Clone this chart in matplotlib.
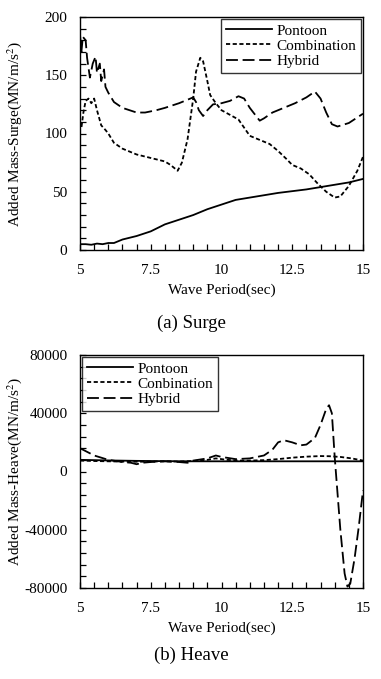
import matplotlib
matplotlib.use("Agg")
import matplotlib.pyplot as plt
from matplotlib.ticker import MultipleLocator

plt.rcParams['font.family'] = ['Liberation Serif', 'DejaVu Serif']
plt.rcParams['mathtext.fontset'] = 'stix'

# ---- Surge data ----
surge_pontoon_x = [5.0, 5.2, 5.4, 5.6, 5.8, 6.0, 6.2, 6.5, 7.0, 7.5, 8.0, 8.5, 9.0, 9.5, 10.0,
                   10.5, 11.0, 11.5, 12.0, 12.5, 13.0, 13.5, 14.0, 14.5, 15.0]
surge_pontoon_y = [5, 5, 4.5, 5.5, 5, 6, 6, 9, 12, 16, 22, 26, 30, 35, 39,
                   43, 45, 47, 49, 50.5, 52, 54, 56, 58, 61]

surge_comb_x = [5.0, 5.05, 5.12, 5.2, 5.3, 5.4, 5.5, 5.6, 5.75, 5.9, 6.0, 6.2, 6.5, 7.0, 7.5,
                8.0, 8.2, 8.45, 8.6, 8.8, 9.0, 9.1, 9.25, 9.35, 9.5, 9.6, 9.8, 10.0, 10.3,
                10.6, 10.8, 11.0, 11.3, 11.7, 12.0, 12.3, 12.5, 12.8, 13.1, 13.4, 13.7,
                14.0, 14.2, 14.5, 14.8, 15.0]
surge_comb_y = [110, 105, 118, 128, 130, 126, 130, 120, 107, 103, 100, 92, 87, 82, 79,
                76, 73, 68, 75, 95, 130, 153, 165, 162, 145, 133, 126, 120, 116,
                112, 105, 98, 95, 91, 85, 78, 73, 70, 65, 57, 50,
                45, 46, 55, 68, 80]

surge_hyb_x = [5.0, 5.05, 5.1, 5.2, 5.25, 5.35, 5.45, 5.55, 5.6, 5.7, 5.75, 5.85, 5.9, 6.0,
               6.2, 6.5, 7.0, 7.3, 7.7, 8.0, 8.5, 9.0, 9.1, 9.2, 9.35, 9.5, 9.7, 10.0,
               10.3, 10.6, 10.8, 11.0, 11.35, 11.5, 11.8, 12.2, 12.6, 13.0, 13.3, 13.5,
               13.7, 13.9, 14.1, 14.5, 15.0]
surge_hyb_y = [185, 170, 183, 180, 165, 148, 160, 166, 152, 160, 145, 155, 140, 135,
               127, 122, 118, 118, 120, 122, 126, 131, 127, 120, 115, 120, 125, 126,
               128, 132, 130, 122, 111, 113, 118, 122, 126, 131, 136, 130,
               118, 108, 106, 109, 117]

# ---- Heave data ----
heave_pontoon_x = [5.0, 6.0, 7.0, 8.0, 9.0, 10.0, 11.0, 12.0, 13.0, 14.0, 15.0]
heave_pontoon_y = [8000, 7600, 7300, 7100, 7000, 7000, 7000, 7000, 7000, 7000, 7000]

heave_comb_x = [5.0, 5.5, 6.0, 6.5, 7.0, 7.5, 8.0, 8.5, 9.0, 9.5, 9.8, 10.2, 10.6, 11.0,
                11.5, 12.0, 12.5, 13.0, 13.5, 13.8, 14.2, 14.6, 15.0]
heave_comb_y = [7500, 7200, 7000, 6800, 6700, 6800, 7000, 6800, 7200, 8000, 9000, 8000,
                7500, 7500, 7800, 8500, 9500, 10200, 10600, 10500, 10000, 9000, 7500]

heave_hyb_x = [5.0, 5.5, 6.0, 6.5, 6.8, 7.0, 7.2, 7.5, 8.0, 8.5, 8.8, 9.0, 9.5, 9.8, 10.0,
               10.5, 11.0, 11.5, 11.8, 12.0, 12.2, 12.5, 12.8, 13.0, 13.3, 13.5, 13.7,
               13.8, 13.9, 14.0, 14.1, 14.2, 14.35, 14.45, 14.55, 14.7, 14.85, 15.0]
heave_hyb_y = [16000, 11000, 8000, 6500, 6000, 5000, 6000, 6500, 7000, 6500, 6000, 7500,
               9000, 11000, 10000, 8500, 9000, 11000, 15000, 20000, 21500, 20000, 18000,
               18500, 23000, 32000, 43000, 45500, 40000, 10000, -15000, -40000, -70000,
               -79000, -77000, -60000, -38000, -13000]

x_ticks = [5, 7.5, 10, 12.5, 15]
x_tick_labels = ['5', '7.5', '10', '12.5', '15']
surge_y_ticks = [0, 50, 100, 150, 200]
heave_y_ticks = [-80000, -40000, 0, 40000, 80000]
legend_surge = ['Pontoon', 'Combination', 'Hybrid']
legend_heave = ['Pontoon', 'Conbination', 'Hybrid']

W, H = 381, 679
fig = plt.figure(figsize=(W/100, H/100), dpi=100)
ax1 = fig.add_axes([80/W, 1-250/H, 283/W, 233/H])
ax2 = fig.add_axes([80/W, 1-588/H, 283/W, 233/H])

lw = 1.3
solid = dict(color='black', lw=lw, linestyle='-')
short = dict(color='black', lw=lw, linestyle=(0, (2.3, 1.4)))
long_ = dict(color='black', lw=lw, linestyle=(0, (6.6, 2.6)))

ax1.plot(surge_pontoon_x, surge_pontoon_y, label=legend_surge[0], **solid)
ax1.plot(surge_comb_x, surge_comb_y, label=legend_surge[1], **short)
ax1.plot(surge_hyb_x, surge_hyb_y, label=legend_surge[2], **long_)

ax2.plot(heave_pontoon_x, heave_pontoon_y, label=legend_heave[0], **solid)
ax2.plot(heave_comb_x, heave_comb_y, label=legend_heave[1], **short)
ax2.plot(heave_hyb_x, heave_hyb_y, label=legend_heave[2], **long_)

fs = 11
for ax, yt, ylab, loc in [
        (ax1, surge_y_ticks, r'Added Mass-Surge(MN/m/s$^2$)', 'upper right'),
        (ax2, heave_y_ticks, r'Added Mass-Heave(MN/m/s$^2$)', 'upper left')]:
    ax.set_xlim(5, 15)
    ax.set_ylim(yt[0], yt[-1])
    ax.set_xticks(x_ticks)
    ax.set_xticklabels(x_tick_labels)
    ax.set_yticks(yt)
    ax.set_yticklabels([str(v) for v in yt])
    ax.xaxis.set_minor_locator(MultipleLocator(0.5))
    ax.yaxis.set_minor_locator(MultipleLocator((yt[1]-yt[0]) / 5))
    ax.tick_params(which='both', direction='in', top=False, right=False,
                   length=4, width=0.9, labelsize=fs)
    ax.tick_params(axis='x', which='both', pad=10)
    ax.tick_params(axis='y', which='both', pad=9)
    for s in ax.spines.values():
        s.set_linewidth(1.0)
    ax.set_xlabel('Wave Period(sec)', fontsize=fs)
    ax.set_ylabel(ylab, fontsize=fs)
    ax.xaxis.set_label_coords(0.5, (250-290)/233)
    ax.xaxis.label.set_va('center')
    ax.yaxis.set_label_coords((15-80)/283, 0.5)
    ax.yaxis.label.set_va('center')
    leg = ax.legend(loc=loc, fontsize=fs, frameon=True, fancybox=False,
                    edgecolor='black', handlelength=3.0, labelspacing=0.1,
                    borderpad=0.3, handletextpad=0.3, borderaxespad=0.15)
    leg.get_frame().set_linewidth(1.0)

fig.text(191/W, 1-323/H, '(a) Surge', ha='center', va='center', fontsize=13.5)
fig.text(191/W, 1-655/H, '(b) Heave', ha='center', va='center', fontsize=13.5)

fig.savefig('out.png', dpi=100)
